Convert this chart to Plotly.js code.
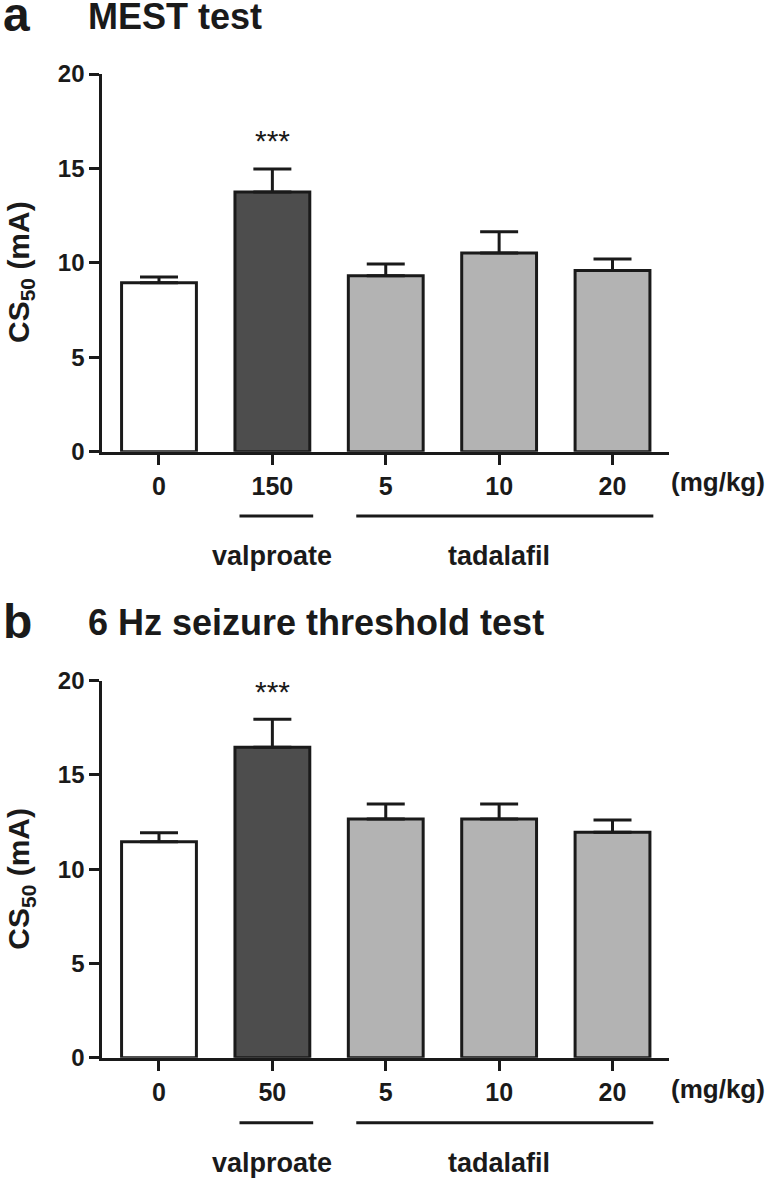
<!DOCTYPE html>
<html><head><meta charset="utf-8">
<script src="https://cdn.plot.ly/plotly-3.0.1.min.js"></script>
<style>html,body{margin:0;padding:0;background:#fff}#chart{width:768px;height:1178px}</style>
</head><body><div id="chart"></div>
<script>
// ---- data ----
const categories = ["control", "valproate", "tadalafil5", "tadalafil10", "tadalafil20"];
const doseLabelsA = ["0", "150", "5", "10", "20"];
const doseLabelsB = ["0", "50", "5", "10", "20"];
const mestMean = [8.95, 13.75, 9.32, 10.52, 9.6];
const mestSem = [0.3, 1.22, 0.62, 1.13, 0.6];
const hzMean = [11.46, 16.47, 12.66, 12.66, 11.96];
const hzSem = [0.48, 1.48, 0.8, 0.8, 0.65];
const noMinus = [0, 0, 0, 0, 0];
const barColors = ["#ffffff", "#4d4d4d", "#b3b3b3", "#b3b3b3", "#b3b3b3"];
const yTicks = [0, 5, 10, 15, 20];
const panelTitles = ["MEST test", "6 Hz seizure threshold test"];
const panelLetters = ["a", "b"];
const groupNames = ["valproate", "tadalafil"];
const sigMark = "***";

// ---- layout helpers ----
const W = 768, H = 1178;
const INK = "#1a1a1a";
const FONT = "Liberation Sans, Arial, Helvetica, sans-serif";
const py = p => 1 - p / H;
const px = p => p / W;

const xDom = [px(102.3), px(669.2)];
const panels = [
  {top: 74, bottom: 451.7, mean: mestMean, sem: mestSem, labels: doseLabelsA, xa: "x", ya: "y"},
  {top: 680.7, bottom: 1057.7, mean: hzMean, sem: hzSem, labels: doseLabelsB, xa: "x2", ya: "y2"}
];

function barTrace(p) {
  return {
    type: "bar", x: categories, y: p.mean, xaxis: p.xa, yaxis: p.ya,
    width: 0.66,
    marker: {color: barColors, line: {color: INK, width: 3}},
    error_y: {type: "data", symmetric: false, array: p.sem, arrayminus: noMinus,
              color: INK, thickness: 3, width: 19},
    showlegend: false, hoverinfo: "skip"
  };
}

function xAxis(p, anchor) {
  return {
    domain: xDom, anchor: anchor, type: "category",
    range: [-0.5, 4.5], tickvals: categories, ticktext: p.labels,
    showline: true, linecolor: INK, linewidth: 3, mirror: false,
    ticks: "outside", ticklen: 10, tickwidth: 3, tickcolor: INK,
    ticklabelstandoff: 0,
    tickfont: {family: FONT, size: 25, color: INK, weight: "bold"},
    showgrid: false, zeroline: false, fixedrange: true
  };
}
function yAxis(p, anchor) {
  return {
    domain: [py(p.bottom), py(p.top)], anchor: anchor,
    range: [0, 20], tickvals: yTicks,
    showline: true, linecolor: INK, linewidth: 3,
    ticks: "outside", ticklen: 10, tickwidth: 3, tickcolor: INK,
    tickfont: {family: FONT, size: 24, color: INK, weight: "bold"},
    showgrid: false, zeroline: false, fixedrange: true
  };
}

const annotations = [];
const shapes = [];
panels.forEach((p, i) => {
  const shift = p.top - 74;
  // panel letter & title
  annotations.push({xref: "paper", yref: "paper", x: px(1), y: py(15 + shift), xanchor: "left", yanchor: "middle",
    text: panelLetters[i], showarrow: false, font: {family: FONT, size: 48, color: INK, weight: "bold"}});
  annotations.push({xref: "paper", yref: "paper", x: px(86), y: py(16 + shift), xanchor: "left", yanchor: "middle",
    text: panelTitles[i], showarrow: false, font: {family: FONT, size: 36, color: INK, weight: "bold"}});
  // y-axis title
  annotations.push({xref: "paper", yref: "paper", x: px(21), y: py(272 + shift), xanchor: "center", yanchor: "middle",
    textangle: -90, text: "CS<sub>50</sub> (mA)", showarrow: false,
    font: {family: FONT, size: 30, color: INK, weight: "bold"}});
  // unit label
  annotations.push({xref: "paper", yref: "paper", x: px(718), y: py(482 + shift), xanchor: "center", yanchor: "middle",
    text: "(mg/kg)", showarrow: false, font: {family: FONT, size: 26, color: INK, weight: "bold"}});
  // significance mark
  annotations.push({xref: p.xa, yref: p.ya, x: categories[1], y: p.mean[1] + p.sem[1],
    yanchor: "middle", yshift: 28, text: sigMark, showarrow: false,
    font: {family: FONT, size: 30, color: INK}});
  // group lines & labels
  const groups = [[0.71, 1.36, 1], [1.74, 4.36, 3]];
  groups.forEach((g, k) => {
    shapes.push({type: "line", xref: p.xa, yref: "paper", x0: g[0], x1: g[1],
      y0: py(516 + shift), y1: py(516 + shift), line: {color: INK, width: 3}});
    annotations.push({xref: p.xa, yref: "paper", x: g[2], y: py(556 + shift), xanchor: "center", yanchor: "middle",
      text: groupNames[k], showarrow: false, font: {family: FONT, size: 27, color: INK, weight: "bold"}});
  });
});

const layout = {
  width: W, height: H, margin: {l: 0, r: 0, t: 0, b: 0},
  paper_bgcolor: "#fff", plot_bgcolor: "#fff",
  xaxis: xAxis(panels[0], "y"), yaxis: yAxis(panels[0], "x"),
  xaxis2: xAxis(panels[1], "y2"), yaxis2: yAxis(panels[1], "x2"),
  annotations: annotations, shapes: shapes, showlegend: false, bargap: 0.34
};

Plotly.newPlot("chart", [barTrace(panels[0]), barTrace(panels[1])], layout, {staticPlot: true});
</script>
</body></html>
